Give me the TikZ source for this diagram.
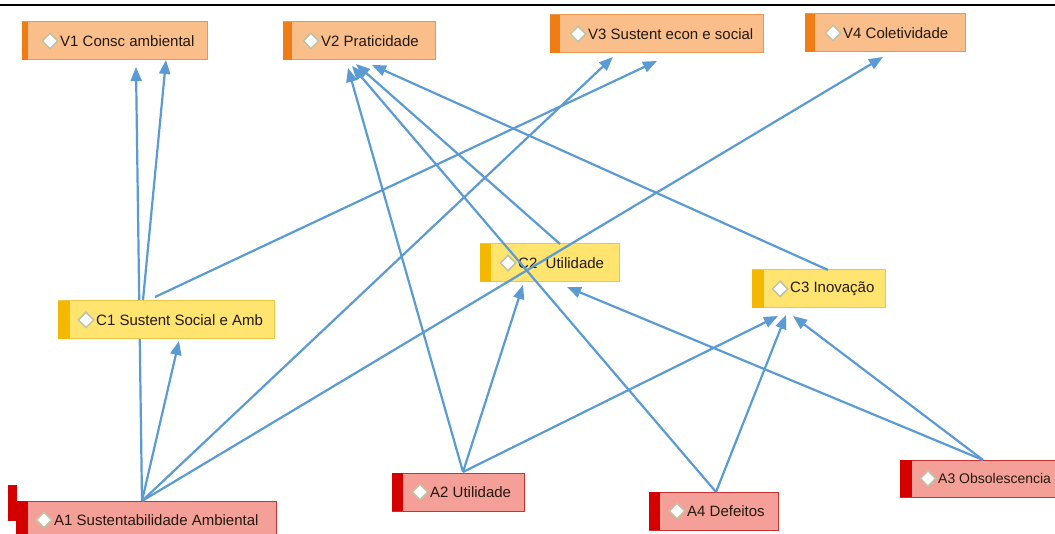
\documentclass[tikz,border=0pt]{standalone}
\usepackage{fontspec}
\setmainfont{Liberation Sans}
\usetikzlibrary{arrows.meta,shapes.geometric,calc}
\definecolor{vfill}{RGB}{250,190,138}
\definecolor{vbar}{RGB}{240,124,22}
\definecolor{vedge}{RGB}{232,150,80}
\definecolor{cfill}{RGB}{255,228,112}
\definecolor{cbar}{RGB}{245,184,0}
\definecolor{cedge}{RGB}{235,200,74}
\definecolor{afill}{RGB}{244,160,152}
\definecolor{abar}{RGB}{212,0,0}
\definecolor{aedge}{RGB}{200,50,50}
\definecolor{linkblue}{RGB}{91,155,213}
\definecolor{txt}{RGB}{35,25,15}
\definecolor{dmd}{RGB}{190,195,165}
\tikzset{
  cmnode/.style={rectangle, inner sep=0pt, outer sep=0pt, line width=1pt},
  cmdiamond/.style={diamond, fill=white, draw=dmd, line width=1.5pt, minimum size=16pt, inner sep=0pt},
  cmtext/.style={text=txt, inner sep=0pt, font=\fontsize{15}{17}\selectfont},
  link/.style={draw=linkblue, line width=2.2pt, -{Triangle[length=14pt,width=11pt]}},
}
% name, kind, x, y, w, h, text, stripe width
\newcommand{\cmbox}[8]{%
  \node[cmnode, fill=#2fill, draw=#2edge, minimum width=#5pt, minimum height=#6pt, anchor=north west] (#1) at (#3,#4) {};
  \fill[#2bar] (#1.north west) rectangle ([xshift=#8pt]#1.south west);
  \node[cmdiamond] at ([xshift=28pt]#1.west) {};
  \node[cmtext, anchor=west] at ([xshift=38pt]#1.west) {#7};
}
\begin{document}
\begin{tikzpicture}[x=1pt,y=-1pt]
\useasboundingbox (0,0) rectangle (1055,534);
\clip (0,0) rectangle (1055,534);
\fill[white] (0,0) rectangle (1055,534);
\draw[line width=2.6pt] (0,5) -- (1055,5);
% top row
\cmbox{V1}{v}{22}{22}{185}{38}{V1 Consc ambiental}{6}
\cmbox{V2}{v}{283}{22}{152}{38}{V2 Praticidade}{9}
\cmbox{V3}{v}{550}{15}{213}{38}{V3 Sustent econ e social}{10}
\cmbox{V4}{v}{805}{14}{160}{38}{V4 Coletividade}{10}
% A row
\fill[abar] (8,485) rectangle (17,521);
\cmbox{A1}{a}{16}{501}{260}{38}{A1 Sustentabilidade Ambiental}{12}
% edge behind C1
\draw[link] ($(A1.north west)+(126,0)$) -- ($(V1.south west)+(114,7)$);
\cmbox{C1}{c}{58}{301}{216}{38}{C1 Sustent Social e Amb}{12}
\cmbox{C2}{c}{480}{244}{139}{38}{C2~ Utilidade}{11}
\cmbox{C3}{c}{752}{270}{133}{38}{C3 Inovação}{12}
\cmbox{A2}{a}{392}{473}{132}{38}{A2 Utilidade}{11}
\cmbox{A4}{a}{649}{492}{129}{38}{A4 Defeitos}{11}
\cmbox{A3}{a}{900}{460}{170}{37}{\fontsize{14}{16}\selectfont A3 Obsolescencia}{12}
% connectors
\draw[link] ($(C1.north west)+(85,-1)$) -- ($(V1.south west)+(144,0)$);
\draw[link] ($(A1.north west)+(126,0)$) -- ($(C1.south west)+(121,2)$);
\draw[link] ($(A1.north west)+(126,0)$) -- ($(V3.south west)+(63,4)$);
\draw[link] ($(C1.north west)+(97,-4)$) -- ($(V3.south west)+(107,8)$);
\draw[link] ($(A1.north west)+(126,0)$) -- ($(V4.south west)+(78,5)$);
\draw[link] ($(A2.north west)+(71,-1)$) -- ($(V2.south west)+(65,8)$);
\draw[link] ($(A4.north west)+(67,0)$) -- ($(V2.south west)+(69,6)$);
\draw[link] ($(C2.north west)+(80,0)$) -- ($(V2.south west)+(73,4)$);
\draw[link] ($(C3.north west)+(76,0)$) -- ($(V2.south west)+(89,5)$);
\draw[link] ($(A2.north west)+(71,-1)$) -- ($(C2.south west)+(43,3)$);
\draw[link] ($(A3.north west)+(83,0)$) -- ($(C2.south west)+(87,5)$);
\draw[link] ($(A2.north west)+(71,-1)$) -- ($(C3.south west)+(26,8)$);
\draw[link] ($(A4.north west)+(67,0)$) -- ($(C3.south west)+(34,7)$);
\draw[link] ($(A3.north west)+(83,0)$) -- ($(C3.south west)+(41,8)$);
\end{tikzpicture}
\end{document}
